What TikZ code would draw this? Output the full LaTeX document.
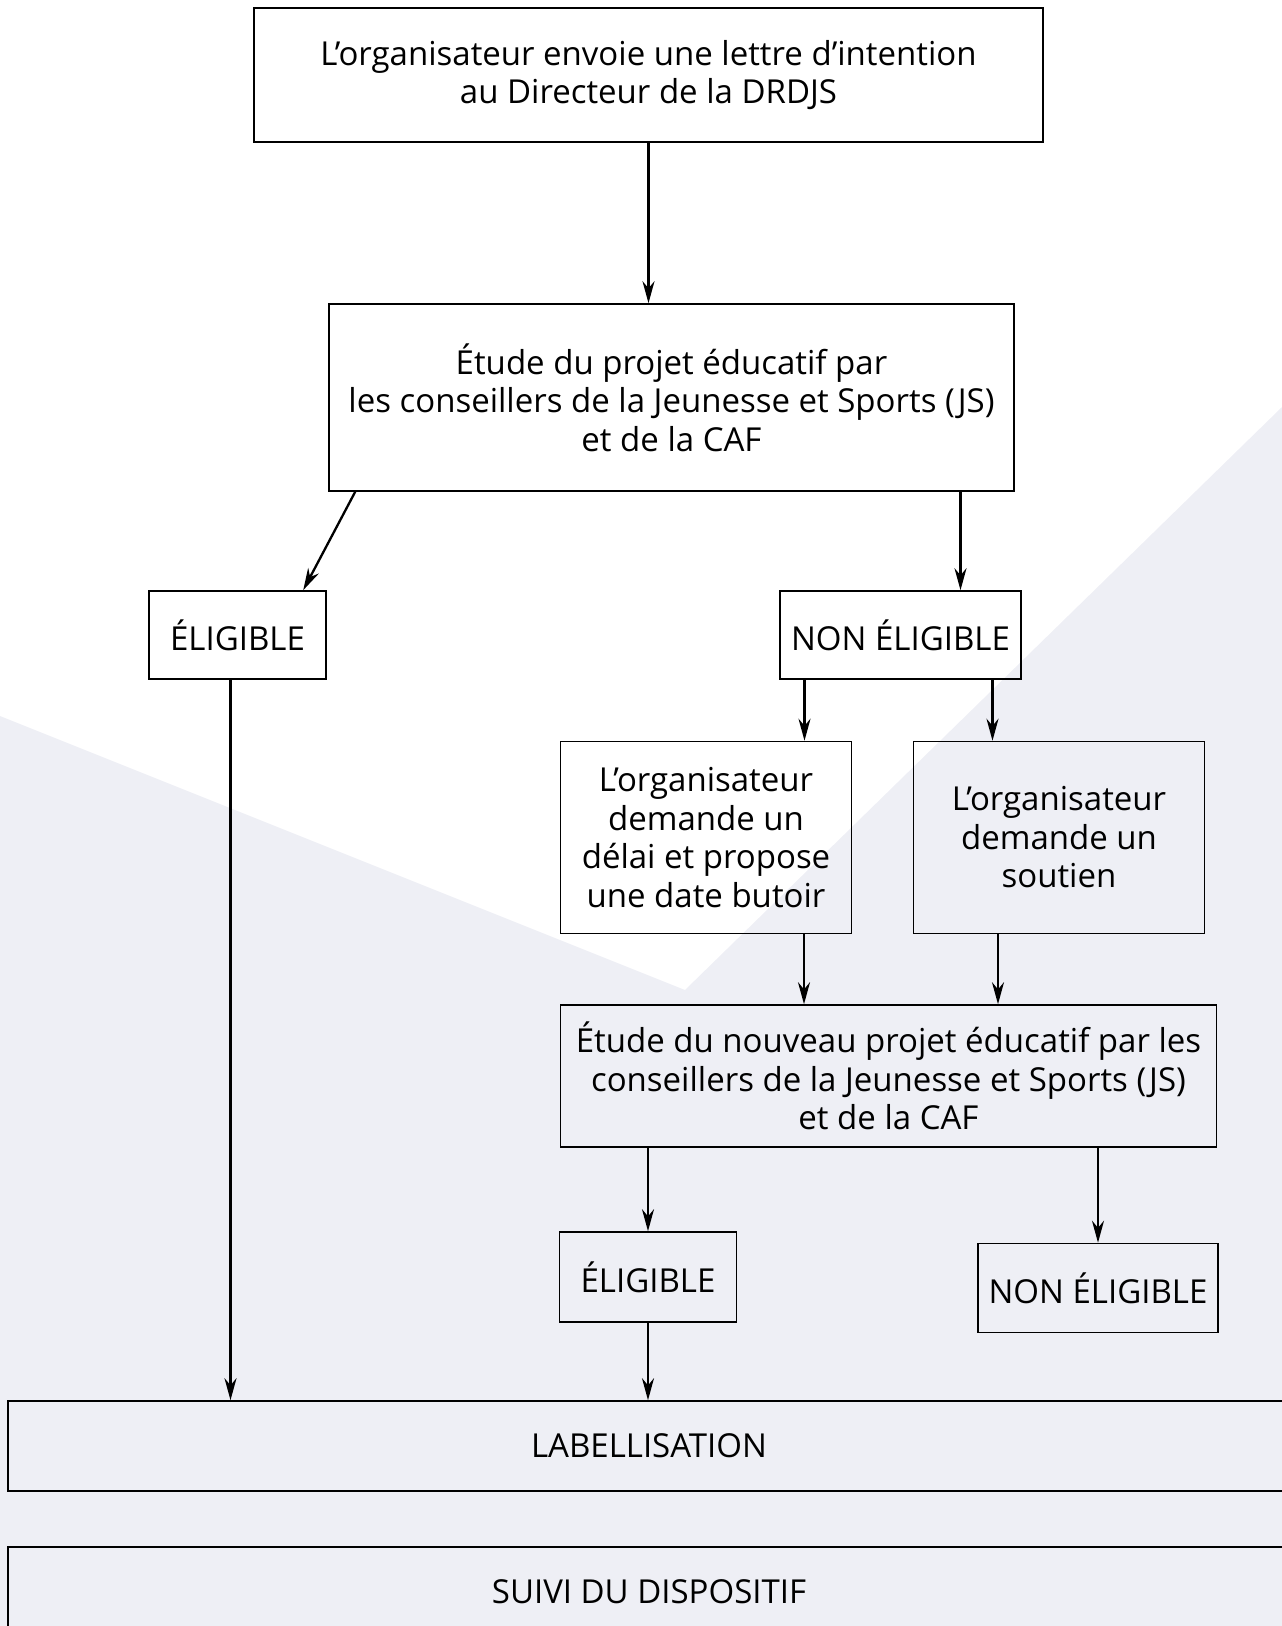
\documentclass[tikz,border=0pt]{standalone}
\usepackage{fontspec}
\setmainfont{Open Sans}
\usepackage{tikz}
\usetikzlibrary{arrows.meta}
\definecolor{fond}{RGB}{238,239,245}

\tikzset{
  boite/.style={draw, line width=1.6pt, align=center, inner sep=0pt,
    font=\fontsize{33}{38.5}\selectfont},
  fleche/.style={-{Stealth[length=22pt,width=12pt]}, line width=2.3pt}
}

\begin{document}
\begin{tikzpicture}[x=1pt, y=-1pt]
    \useasboundingbox (0,0) rectangle (1282,1626);
    \fill[fond] (0,716) -- (685,990) -- (1282,407) -- (1282,1626) -- (0,1626) -- cycle;

    \node[boite, minimum width=789, minimum height=134] (lettre) at (648.5,75)
        {L’organisateur envoie une lettre d’intention\\au Directeur de la DRDJS};
    \node[boite, minimum width=685, minimum height=187] (etude) at (671.5,397.5)
        {Étude du projet éducatif par\\les conseillers de la Jeunesse et Sports (JS)\\et de la CAF};
    \node[boite, minimum width=177, minimum height=88] (elig) at (237.5,635) {ÉLIGIBLE};
    \node[boite, minimum width=241, minimum height=88] (nonelig) at (900.5,635) {NON ÉLIGIBLE};
    \node[boite, minimum width=291, minimum height=192] (delai) at (706,837.5)
        {L’organisateur\\demande un\\délai et propose\\une date butoir};
    \node[boite, minimum width=291, minimum height=192] (soutien) at (1059,837.5)
        {L’organisateur\\demande un\\soutien};
    \node[boite, minimum width=656, minimum height=142] (nouvelle) at (888.5,1076)
        {Étude du nouveau projet éducatif par les\\conseillers de la Jeunesse et Sports (JS)\\et de la CAF};
    \node[boite, minimum width=177, minimum height=90] (elig2) at (648,1277) {ÉLIGIBLE};
    \node[boite, minimum width=240, minimum height=89] (nonelig2) at (1098,1288) {NON ÉLIGIBLE};
    \node[boite, minimum width=1282, minimum height=90] (label) at (649,1446) {LABELLISATION};
    \node[boite, minimum width=1282, minimum height=90] (suivi) at (649,1592) {SUIVI DU DISPOSITIF};

    % fleches
    \draw[fleche] (lettre.south) -- (lettre.south |- etude.north);
    \draw[fleche] ([xshift=27]etude.south west) -- ([xshift=155]elig.north west);
    \draw[fleche] ([xshift=60]nonelig.north |- etude.south) -- ([xshift=60]nonelig.north);
    \draw[fleche] ([xshift=-96]nonelig.south) -- ([xshift=-96]nonelig.south |- delai.north);
    \draw[fleche] ([xshift=92]nonelig.south) -- ([xshift=92]nonelig.south |- soutien.north);
    \draw[fleche] ([xshift=98]delai.south) -- ([xshift=98]delai.south |- nouvelle.north);
    \draw[fleche] ([xshift=-61]soutien.south) -- ([xshift=-61]soutien.south |- nouvelle.north);
    \draw[fleche] (elig2.north |- nouvelle.south) -- (elig2.north);
    \draw[fleche] (nonelig2.north |- nouvelle.south) -- (nonelig2.north);
    \draw[fleche] (elig2.south) -- (elig2.south |- label.north);
    \draw[fleche] ([xshift=-7]elig.south) -- ([xshift=-7]elig.south |- label.north);
\end{tikzpicture}
\end{document}
